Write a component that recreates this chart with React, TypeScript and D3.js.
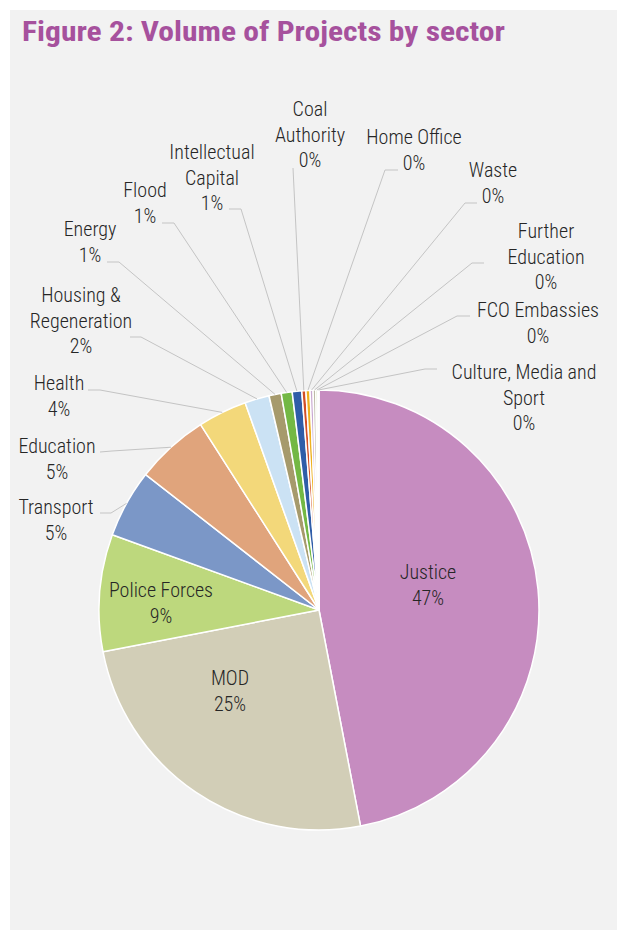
import React from "react";
import * as d3 from "d3";

// ---- data ----
const sectors = [
  "Justice", "MOD", "Police Forces", "Transport", "Education", "Health",
  "Housing & Regeneration", "Energy", "Flood", "Intellectual Capital",
  "Coal Authority", "Home Office", "Waste", "Further Education",
  "FCO Embassies", "Culture, Media and Sport",
];
const shares = [47.0, 25.0, 8.6, 5.0, 5.4, 3.6, 1.8, 0.9, 0.8, 0.7, 0.3, 0.3, 0.22, 0.2, 0.15, 0.08];
const palette = [
  "#C68CC0", "#D2CEB7", "#BDD87D", "#7B97C7", "#E0A47C", "#F3D87A",
  "#CBE2F4", "#A69A6C", "#73B844", "#2F5DA8", "#D24F27", "#EEB11E",
  "#C9A9D1", "#BDBAA6", "#D9E6C0", "#A9BCDD",
];
const titleText = "Figure 2: Volume of Projects by sector";

// ---- layout (label placement) ----
type Lay = { lines: string[]; x: number; y: number; elbow?: [number, number][] };
const labelLayout: Lay[] = [
  { lines: ["Justice"], x: 428, y: 572 },
  { lines: ["MOD"], x: 230, y: 678 },
  { lines: ["Police Forces"], x: 161, y: 590 },
  { lines: ["Transport"], x: 56, y: 507, elbow: [[100, 513], [111, 513]] },
  { lines: ["Education"], x: 57, y: 446, elbow: [[100, 452], [112, 451]] },
  { lines: ["Health"], x: 59, y: 383, elbow: [[88, 390], [100, 390]] },
  { lines: ["Housing &", "Regeneration"], x: 81, y: 295, elbow: [[130, 337], [141, 337]] },
  { lines: ["Energy"], x: 90, y: 229, elbow: [[107, 262], [119, 262]] },
  { lines: ["Flood"], x: 145, y: 190, elbow: [[162, 223], [174, 223]] },
  { lines: ["Intellectual", "Capital"], x: 212, y: 152, elbow: [[229, 209], [241, 209]] },
  { lines: ["Coal", "Authority"], x: 310, y: 109, elbow: [[293, 168]] },
  { lines: ["Home Office"], x: 414, y: 137, elbow: [[398, 170], [385, 170]] },
  { lines: ["Waste"], x: 493, y: 170, elbow: [[477, 203], [465, 203]] },
  { lines: ["Further", "Education"], x: 546, y: 231, elbow: [[484, 263], [472, 263]] },
  { lines: ["FCO Embassies"], x: 538, y: 310, elbow: [[470, 316], [457, 316]] },
  { lines: ["Culture, Media and", "Sport"], x: 524, y: 372, elbow: [[437, 369], [425, 369]] },
];

const W = 621, H = 930;
const cx = 319, cy = 610, R = 220;
const LH = 25.6;
const FONT = "'Roboto Condensed', 'Liberation Sans Narrow', 'Arial Narrow', sans-serif";

export default function App() {
  const data = sectors.map((s, i) => ({ name: s, value: shares[i], color: palette[i], lay: labelLayout[i] }));
  const total = d3.sum(shares);
  const pct = d3.format(".0%");
  const pie = d3.pie<any>().sort(null).value((d) => d.value).startAngle(0).endAngle(2 * Math.PI);
  const arcs = pie(data);
  const arc = d3.arc<any>().innerRadius(0).outerRadius(R);
  const line = d3.line();

  return (
    <svg width={W} height={H} style={{ position: "absolute", left: 0, top: 0 }} fontFamily={FONT}>
      <rect x={10} y={10} width={607} height={H - 10} fill="#F2F2F2" />
      <text x={22} y={41} fill="#A6519D" fontSize={27} fontWeight="bold" fontFamily={FONT}
        textLength={483} lengthAdjust="spacingAndGlyphs">{titleText}</text>
      <g transform={`translate(${cx},${cy})`}>
        {arcs.map((a, i) => (
          <path key={i} d={arc(a) as string} fill={a.data.color} stroke="#FFFFFF" strokeWidth={1.5} strokeLinejoin="round" />
        ))}
      </g>
      {arcs.map((a, i) => {
        const lay: Lay = a.data.lay;
        if (!lay.elbow) return null;
        const m = (a.startAngle + a.endAngle) / 2;
        const end: [number, number] = [cx + R * Math.sin(m), cy - R * Math.cos(m)];
        return <path key={"l" + i} d={line([...lay.elbow, end]) as string} fill="none" stroke="#C4C4C4" strokeWidth={1} />;
      })}
      {arcs.map((a, i) => {
        const lay: Lay = a.data.lay;
        const lines = [...lay.lines, pct(a.data.value / total)];
        return (
          <text key={"t" + i} textAnchor="middle" fontSize={20} fontWeight={300} fill="#262626" fontFamily={FONT}>
            {lines.map((t, j) => (
              <tspan key={j} x={lay.x} y={lay.y + j * LH} dy="0.35em">{t}</tspan>
            ))}
          </text>
        );
      })}
    </svg>
  );
}
